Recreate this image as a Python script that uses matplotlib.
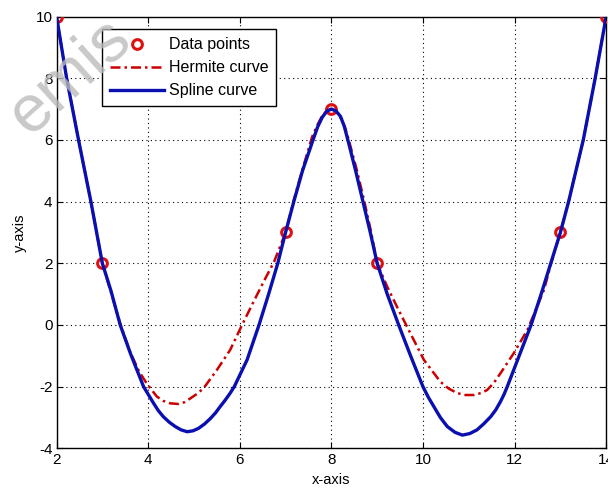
import matplotlib
matplotlib.use("Agg")
import matplotlib.pyplot as plt

# data points
data_x = [2, 3, 7, 8, 9, 13, 14]
data_y = [10, 2, 3, 7, 2, 3, 10]

# spline curve
spline_x = [2.0, 2.22, 2.48, 2.75, 3.0, 3.19, 3.39, 3.62, 3.9, 4.12, 4.22, 4.33, 4.46,
            4.59, 4.72, 4.85, 4.98, 5.10, 5.23, 5.36, 5.47, 5.57, 5.68, 5.79, 5.88,
            6.16, 6.42, 6.63, 6.83, 7.0, 7.18, 7.37, 7.6, 7.7, 7.8, 7.9, 8.0, 8.1, 8.2,
            8.28, 8.36, 8.53, 8.69, 8.85, 9.0, 9.22, 9.47, 9.73, 10.0, 10.12, 10.24,
            10.38, 10.53, 10.7, 10.86, 11.02, 11.18, 11.33, 11.48, 11.59, 11.69, 11.77,
            11.84, 12.1, 12.36, 12.58, 12.79, 13.0, 13.18, 13.34, 13.5, 13.63, 13.76,
            13.88, 14.0]
spline_y = [10.0, 8.0, 6.0, 4.0, 2.0, 1.1, 0.0, -0.95, -2.0, -2.54, -2.77, -2.97, -3.15,
            -3.29, -3.4, -3.46, -3.43, -3.35, -3.21, -3.03, -2.85, -2.65, -2.44, -2.21, -2.0,
            -1.13, 0.0, 1.0, 2.0, 3.0, 4.0, 5.0, 6.0, 6.42, 6.73, 6.93, 7.0, 6.94, 6.76,
            6.45, 6.0, 5.0, 4.0, 3.0, 2.0, 1.0, 0.0, -1.0, -2.0, -2.35, -2.65,
            -3.0, -3.29, -3.48, -3.57, -3.52, -3.4, -3.2, -2.97, -2.75, -2.49, -2.25,
            -2.0, -1.0, 0.0, 1.0, 2.0, 3.0, 4.0, 5.0, 6.0, 7.0, 8.0,
            9.0, 10.0]

# hermite curve
herm_x = [2.0, 2.22, 2.48, 2.75, 3.0, 3.2, 3.4, 3.6, 3.8, 3.97, 4.19, 4.33, 4.48, 4.66,
          4.8, 4.92, 5.06, 5.21, 5.5, 5.79, 6.05, 6.3, 6.52, 6.75, 7.0, 7.18, 7.38, 7.58,
          7.7, 7.8, 7.9, 8.0, 8.1, 8.2, 8.3, 8.38, 8.56, 8.72, 8.87, 9.0, 9.22, 9.43,
          9.65, 10.02, 10.38, 10.56, 10.75, 10.93, 11.11, 11.26, 11.4, 11.55, 11.69,
          11.98, 12.28, 12.42, 12.64, 12.8, 13.0, 13.18, 13.5, 13.76, 14.0]
herm_y = [10.0, 8.0, 6.0, 4.0, 2.0, 1.0, 0.0, -0.85, -1.5, -1.9, -2.32, -2.46, -2.54, -2.56,
          -2.5, -2.38, -2.24, -2.05, -1.46, -0.81, 0.0, 0.75, 1.4, 2.05, 3.0, 4.05, 5.1, 6.1,
          6.5, 6.78, 6.95, 7.0, 6.93, 6.72, 6.4, 6.0, 5.0, 4.0, 3.0, 2.0, 1.24, 0.6,
          -0.05, -1.13, -1.84, -2.06, -2.21, -2.27, -2.27, -2.21, -2.11, -1.87, -1.57,
          -0.92, -0.16, 0.34, 1.13, 2.0, 3.0, 4.0, 6.0, 8.0, 10.0]

plt.rcParams["font.family"] = ["Liberation Sans", "DejaVu Sans"]
plt.rcParams["axes.unicode_minus"] = False

fig = plt.figure(figsize=(6.08, 4.93), dpi=100)
ax = fig.add_axes([0.093, 0.0905, 0.904, 0.876])

red = "#cc0000"
blue = "#0a0fb0"

ax.plot(data_x, data_y, "o", ms=7, mew=2.2, mfc="none", mec="#dd1111",
        label="Data points", zorder=3)
ax.plot(herm_x, herm_y, color=red, lw=1.8, dashes=(4, 1.6, 1, 1.6),
        label="Hermite curve", zorder=2)
ax.plot(spline_x, spline_y, color=blue, lw=2.4, label="Spline curve", zorder=4,
        solid_joinstyle="round")

ax.set_xlim(2, 14)
ax.set_ylim(-4, 10)
ax.set_xticks(range(2, 15, 2))
ax.set_yticks(range(-4, 11, 2))
ax.grid(True, color="black", linestyle=(0, (1, 3)), linewidth=0.8)
ax.tick_params(direction="in", top=True, right=True, length=4, labelsize=11, pad=3)
for s in ax.spines.values():
    s.set_linewidth(1.0)

ax.set_xlabel("x-axis", fontsize=10.5, labelpad=5)
ax.set_ylabel("y-axis", fontsize=10.5, labelpad=6)

leg = ax.legend(loc="upper left", bbox_to_anchor=(0.082, 0.970), borderaxespad=0,
                fancybox=False, framealpha=1, edgecolor="black", fontsize=11.5,
                handlelength=3.4, handletextpad=0.3, labelspacing=0.5,
                borderpad=0.5)
leg.get_frame().set_linewidth(1.0)

# faint watermark
fig.text(-0.005, 0.73, "emis", rotation=42, fontsize=48, color="#bbbbbb",
         alpha=0.8, zorder=10)

fig.savefig("out.png", dpi=100)
